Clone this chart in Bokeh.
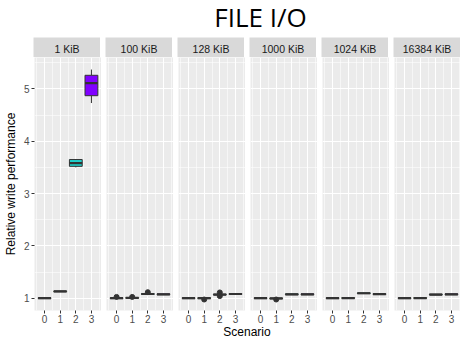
from bokeh.plotting import figure
from bokeh.layouts import column, row
from bokeh.models import Range1d, FixedTicker, ColumnDataSource
from bokeh.transform import dodge
from bokeh.embed import file_html
from bokeh.resources import INLINE
from bokeh.core.properties import value

# ---------------- data ----------------
chart_title = "FILE I/O"
y_label = "Relative write performance"
x_label = "Scenario"
panels = ["1 KiB", "100 KiB", "128 KiB", "1000 KiB", "1024 KiB", "16384 KiB"]
scenarios = [0, 1, 2, 3]
fill_colors = ["#FF0000", "#80FF00", "#1FD0CB", "#8000FF"]
y_ticks = [1, 2, 3, 4, 5]
x_ticks = [0, 1, 2, 3]

# box statistics per panel, one value per scenario 0..3
lower = {
    "1 KiB":     [0.992, 1.122, 3.50, 4.73],
    "100 KiB":   [0.992, 0.997, 1.072, 1.067],
    "128 KiB":   [0.992, 0.992, 1.062, 1.072],
    "1000 KiB":  [0.992, 0.987, 1.067, 1.067],
    "1024 KiB":  [0.992, 0.995, 1.087, 1.070],
    "16384 KiB": [0.992, 0.995, 1.062, 1.067],
}
q1 = {
    "1 KiB":     [0.992, 1.122, 3.52, 4.87],
    "100 KiB":   [0.992, 0.997, 1.072, 1.067],
    "128 KiB":   [0.992, 0.992, 1.062, 1.072],
    "1000 KiB":  [0.992, 0.987, 1.067, 1.067],
    "1024 KiB":  [0.992, 0.995, 1.087, 1.070],
    "16384 KiB": [0.992, 0.995, 1.062, 1.067],
}
median = {
    "1 KiB":     [1.000, 1.130, 3.58, 5.11],
    "100 KiB":   [1.000, 1.005, 1.080, 1.075],
    "128 KiB":   [1.000, 1.000, 1.070, 1.080],
    "1000 KiB":  [1.000, 0.995, 1.075, 1.075],
    "1024 KiB":  [1.000, 1.003, 1.095, 1.078],
    "16384 KiB": [1.000, 1.003, 1.070, 1.075],
}
q3 = {
    "1 KiB":     [1.008, 1.138, 3.65, 5.26],
    "100 KiB":   [1.008, 1.013, 1.088, 1.083],
    "128 KiB":   [1.008, 1.008, 1.078, 1.088],
    "1000 KiB":  [1.008, 1.003, 1.083, 1.083],
    "1024 KiB":  [1.008, 1.011, 1.103, 1.086],
    "16384 KiB": [1.008, 1.011, 1.078, 1.083],
}
upper = {
    "1 KiB":     [1.008, 1.138, 3.66, 5.37],
    "100 KiB":   [1.008, 1.013, 1.088, 1.083],
    "128 KiB":   [1.008, 1.008, 1.078, 1.088],
    "1000 KiB":  [1.008, 1.003, 1.083, 1.083],
    "1024 KiB":  [1.008, 1.011, 1.103, 1.086],
    "16384 KiB": [1.008, 1.011, 1.078, 1.083],
}
# outliers
out_panel = ["100 KiB", "100 KiB", "100 KiB", "128 KiB", "128 KiB", "128 KiB", "1000 KiB"]
out_scenario = [0, 1, 2, 1, 2, 2, 1]
out_value = [1.025, 1.025, 1.115, 0.975, 1.11, 1.04, 0.975]

# ---------------- styling ----------------
FONT = "Liberation Sans"
BOX_W = 0.82
FRAME_W = 67
FRAME_H = 253
GAP = 5
LEFT = 33

x_rng = (-0.645, 3.645)
y_rng = (0.765, 5.6)

title_fig = figure(width=460, height=37, x_range=Range1d(0, 460), y_range=Range1d(0, 37),
                   x_axis_location=None, y_axis_location=None, toolbar_location=None,
                   output_backend="svg", min_border=0, outline_line_color=None)
title_fig.grid.visible = False
title_fig.text(x=[260], y=[20.5], text=[chart_title], text_align="center",
               text_baseline="middle", text_font_size="26px",
               text_font=value("Open Sans"), text_color="#000000")

strips = []
plots = []
for i, name in enumerate(panels):
    first = i == 0
    lb = LEFT if first else GAP
    # strip header
    s = figure(frame_width=FRAME_W, frame_height=20, x_range=Range1d(0, 1), y_range=Range1d(0, 1),
               x_axis_location=None, y_axis_location=None, toolbar_location=None,
               output_backend="svg", min_border_left=lb, min_border_right=0,
               min_border_top=0, min_border_bottom=0,
               background_fill_color="#D9D9D9", border_fill_color="white",
               outline_line_color=None)
    s.grid.visible = False
    s.text(x=[0.5], y=[0.45], text=[name], text_align="center", text_baseline="middle",
           text_font_size="10.5px", text_font=value(FONT), text_color="#1A1A1A")
    strips.append(s)

    p = figure(frame_width=FRAME_W, frame_height=FRAME_H,
               x_range=Range1d(*x_rng), y_range=Range1d(*y_rng),
               y_axis_location="left" if first else None,
               toolbar_location=None, output_backend="svg",
               min_border_left=lb, min_border_right=0, min_border_top=0, min_border_bottom=0,
               background_fill_color="#EBEBEB", border_fill_color="white",
               outline_line_color=None)
    p.xgrid.ticker = FixedTicker(ticks=x_ticks, minor_ticks=[-0.5, 0.5, 1.5, 2.5, 3.5])
    p.ygrid.ticker = FixedTicker(ticks=y_ticks, minor_ticks=[1.5, 2.5, 3.5, 4.5, 5.5])
    for g in (p.xgrid, p.ygrid):
        g.grid_line_color = "white"
        g.grid_line_width = 1.1
        g.minor_grid_line_color = "white"
        g.minor_grid_line_width = 0.55

    p.xaxis.ticker = FixedTicker(ticks=x_ticks)
    p.xaxis.axis_line_color = None
    p.xaxis.major_tick_line_color = "#333333"
    p.xaxis.major_tick_out = 3
    p.xaxis.major_tick_in = 0
    p.xaxis.minor_tick_line_color = None
    p.xaxis.major_label_standoff = 1
    p.xaxis.major_label_text_font_size = "10px"
    p.xaxis.major_label_text_font = FONT
    p.xaxis.major_label_text_color = "#4D4D4D"

    if first:
        p.yaxis.ticker = FixedTicker(ticks=y_ticks)
        p.yaxis.axis_line_color = None
        p.yaxis.major_tick_line_color = "#333333"
        p.yaxis.major_tick_out = 3
        p.yaxis.major_tick_in = 0
        p.yaxis.minor_tick_line_color = None
        p.yaxis.major_label_standoff = 2
        p.yaxis.major_label_text_font_size = "10px"
        p.yaxis.major_label_text_font = FONT
        p.yaxis.major_label_text_color = "#4D4D4D"
        p.yaxis.axis_label = y_label
        p.yaxis.axis_label_text_font_size = "12px"
        p.yaxis.axis_label_text_font = FONT
        p.yaxis.axis_label_text_font_style = "normal"
        p.yaxis.axis_label_text_color = "#000000"
        p.yaxis.axis_label_standoff = 3

    src = ColumnDataSource(dict(x=scenarios, lower=lower[name], q1=q1[name], med=median[name],
                                q3=q3[name], upper=upper[name], color=fill_colors))
    p.segment(x0="x", y0="q3", x1="x", y1="upper", source=src, line_color="#333333", line_width=1)
    p.segment(x0="x", y0="q1", x1="x", y1="lower", source=src, line_color="#333333", line_width=1)
    p.vbar(x="x", width=BOX_W, bottom="q1", top="q3", source=src,
           fill_color="color", line_color="#333333", line_width=1)
    p.segment(x0=dodge("x", -BOX_W / 2), y0="med", x1=dodge("x", BOX_W / 2), y1="med",
              source=src, line_color="#333333", line_width=2.2)

    ox = [sc for pn, sc in zip(out_panel, out_scenario) if pn == name]
    oy = [v for pn, v in zip(out_panel, out_value) if pn == name]
    if ox:
        p.scatter(x=ox, y=oy, size=5, fill_color="#333333", line_color="#333333")
    plots.append(p)

xlab_fig = figure(width=460, height=12, x_range=Range1d(0, 460), y_range=Range1d(0, 12),
                  x_axis_location=None, y_axis_location=None, toolbar_location=None,
                  output_backend="svg", min_border=0, outline_line_color=None)
xlab_fig.grid.visible = False
xlab_fig.text(x=[246.5], y=[6], text=[x_label], text_align="center", text_baseline="middle",
              text_font_size="12px", text_font=value(FONT), text_color="#000000")

layout = column(title_fig, row(*strips, spacing=0), row(*plots, spacing=0), xlab_fig, spacing=0)

open("out.html", "w").write(file_html(layout, INLINE))
